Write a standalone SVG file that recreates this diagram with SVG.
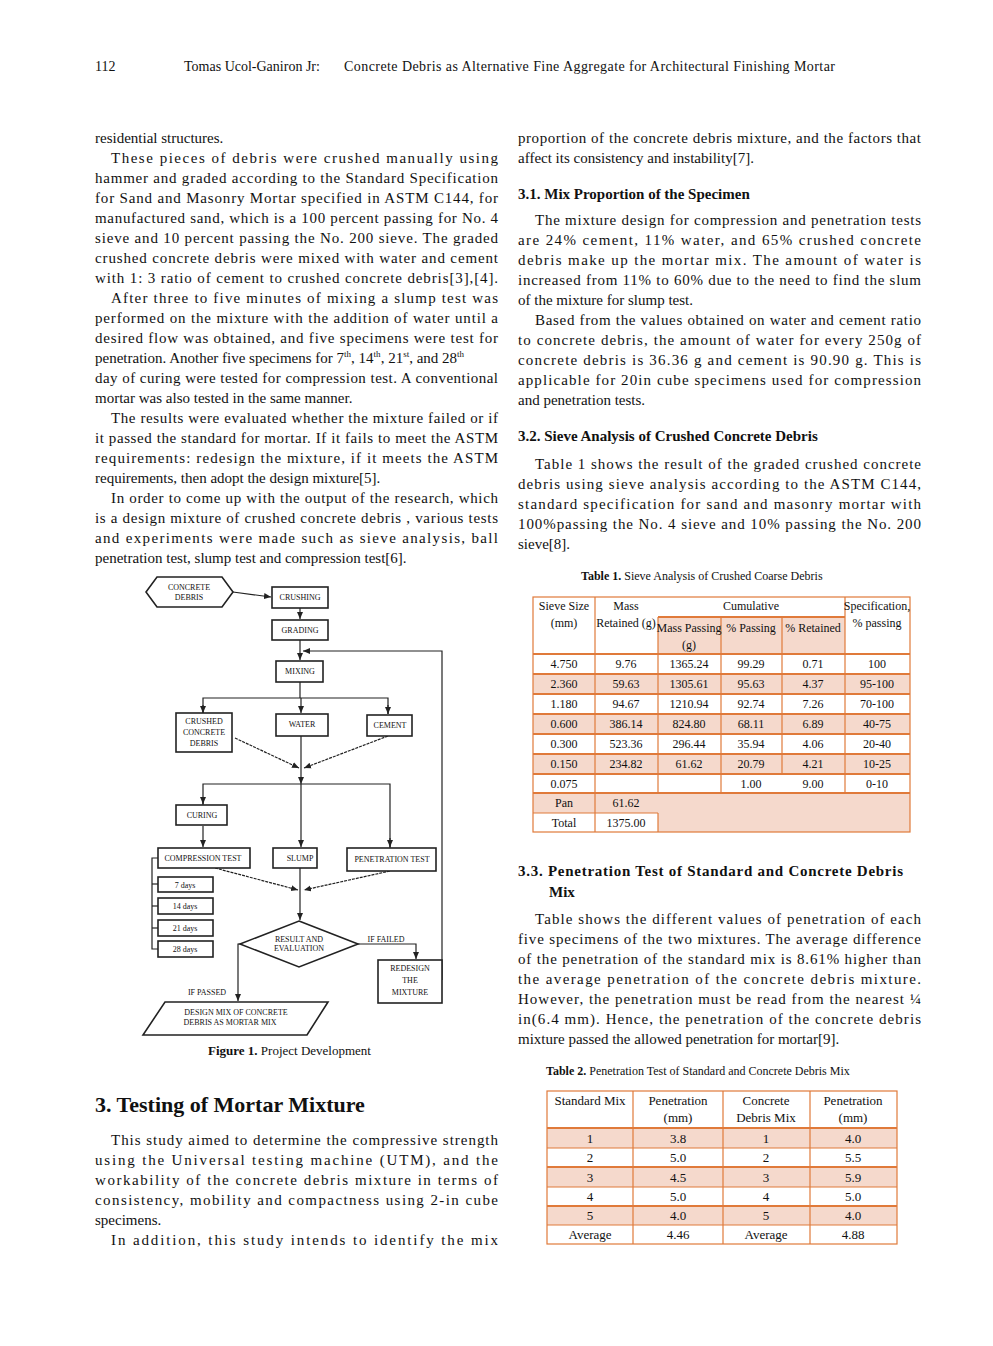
<svg xmlns="http://www.w3.org/2000/svg" width="993" height="1346" viewBox="0 0 993 1346">
<defs>
<style>
text{font-family:"Liberation Serif","Times New Roman",serif;fill:#111}
.b{font-size:15px}
.h{font-size:14px}
.sh{font-size:15px;font-weight:bold}
.cap{font-size:12px}
.fc{font-size:8px;text-anchor:middle}
.box{fill:#fff;stroke:#222;stroke-width:1.6}
.ln{stroke:#222;stroke-width:1.2;fill:none}
.tt{font-family:"Liberation Sans Narrow","DejaVu Sans Condensed",sans-serif;font-size:12px;text-anchor:middle}
.t2{font-family:"DejaVu Sans Condensed","Liberation Sans Narrow",sans-serif;font-size:13px;text-anchor:middle}
.sd{fill:#F5D9CC}
.ob{stroke:#E07A3A;fill:none}
</style>
<marker id="ar" markerWidth="8" markerHeight="8" refX="7" refY="4" orient="auto" markerUnits="userSpaceOnUse"><path d="M0,1 L7,4 L0,7 z" fill="#222"/></marker>
</defs>
<rect width="993" height="1346" fill="#fff"/>
<text class="h" x="95" y="71">112</text>
<text class="h" x="184" y="71">Tomas Ucol-Ganiron Jr:</text>
<text class="h" x="344" y="71" textLength="491" lengthAdjust="spacing">Concrete Debris as Alternative Fine Aggregate for Architectural Finishing Mortar</text>

<g class="b">
<text x="95" y="143">residential structures.</text>
<text x="111" y="163" textLength="387" lengthAdjust="spacing">These pieces of debris were crushed manually using</text>
<text x="95" y="183" textLength="403" lengthAdjust="spacing">hammer and graded according to the Standard Specification</text>
<text x="95" y="203" textLength="403" lengthAdjust="spacing">for Sand and Masonry Mortar specified in ASTM C144, for</text>
<text x="95" y="223" textLength="403" lengthAdjust="spacing">manufactured sand, which is a 100 percent passing for No. 4</text>
<text x="95" y="243" textLength="403" lengthAdjust="spacing">sieve and 10 percent passing the No. 200 sieve. The graded</text>
<text x="95" y="263" textLength="403" lengthAdjust="spacing">crushed concrete debris were mixed with water and cement</text>
<text x="95" y="283" textLength="403" lengthAdjust="spacing">with 1: 3 ratio of cement to crushed concrete debris[3],[4].</text>
<text x="111" y="303" textLength="387" lengthAdjust="spacing">After three to five minutes of mixing a slump test was</text>
<text x="95" y="323" textLength="403" lengthAdjust="spacing">performed on the mixture with the addition of water until a</text>
<text x="95" y="343" textLength="403" lengthAdjust="spacing">desired flow was obtained, and five specimens were test for</text>
<text x="95" y="363">penetration. Another five specimens for 7<tspan font-size="9" dy="-6">th</tspan><tspan dy="6">, 14</tspan><tspan font-size="9" dy="-6">th</tspan><tspan dy="6">, 21</tspan><tspan font-size="9" dy="-6">st</tspan><tspan dy="6">, and 28</tspan><tspan font-size="9" dy="-6">th</tspan></text>
<text x="95" y="383" textLength="403" lengthAdjust="spacing">day of curing were tested for compression test. A conventional</text>
<text x="95" y="403">mortar was also tested in the same manner.</text>
<text x="111" y="423" textLength="387" lengthAdjust="spacing">The results were evaluated whether the mixture failed or if</text>
<text x="95" y="443" textLength="403" lengthAdjust="spacing">it passed the standard for mortar. If it fails to meet the ASTM</text>
<text x="95" y="463" textLength="403" lengthAdjust="spacing">requirements: redesign the mixture, if it meets the ASTM</text>
<text x="95" y="483">requirements, then adopt the design mixture[5].</text>
<text x="111" y="503" textLength="387" lengthAdjust="spacing">In order to come up with the output of the research, which</text>
<text x="95" y="523" textLength="403" lengthAdjust="spacing">is a design mixture of crushed concrete debris , various tests</text>
<text x="95" y="543" textLength="403" lengthAdjust="spacing">and experiments were made such as sieve analysis, ball</text>
<text x="95" y="563">penetration test, slump test and compression test[6].</text>

<text x="518" y="143" textLength="403" lengthAdjust="spacing">proportion of the concrete debris mixture, and the factors that</text>
<text x="518" y="163">affect its consistency and instability[7].</text>
<text x="535" y="225" textLength="386" lengthAdjust="spacing">The mixture design for compression and penetration tests</text>
<text x="518" y="245" textLength="403" lengthAdjust="spacing">are 24% cement, 11% water, and 65% crushed concrete</text>
<text x="518" y="265" textLength="403" lengthAdjust="spacing">debris make up the mortar mix. The amount of water is</text>
<text x="518" y="285" textLength="403" lengthAdjust="spacing">increased from 11% to 60% due to the need to find the slum</text>
<text x="518" y="305">of the mixture for slump test.</text>
<text x="535" y="325" textLength="386" lengthAdjust="spacing">Based from the values obtained on water and cement ratio</text>
<text x="518" y="345" textLength="403" lengthAdjust="spacing">to concrete debris, the amount of water for every 250g of</text>
<text x="518" y="365" textLength="403" lengthAdjust="spacing">concrete debris is 36.36 g and cement is 90.90 g. This is</text>
<text x="518" y="385" textLength="403" lengthAdjust="spacing">applicable for 20in cube specimens used for compression</text>
<text x="518" y="405">and penetration tests.</text>
<text x="535" y="469" textLength="386" lengthAdjust="spacing">Table 1 shows the result of the graded crushed concrete</text>
<text x="518" y="489" textLength="403" lengthAdjust="spacing">debris using sieve analysis according to the ASTM C144,</text>
<text x="518" y="509" textLength="403" lengthAdjust="spacing">standard specification for sand and masonry mortar with</text>
<text x="518" y="529" textLength="403" lengthAdjust="spacing">100%passing the No. 4 sieve and 10% passing the No. 200</text>
<text x="518" y="549">sieve[8].</text>
<text x="535" y="924" textLength="386" lengthAdjust="spacing">Table shows the different values of penetration of each</text>
<text x="518" y="944" textLength="403" lengthAdjust="spacing">five specimens of the two mixtures. The average difference</text>
<text x="518" y="964" textLength="403" lengthAdjust="spacing">of the penetration of the standard mix is 8.61% higher than</text>
<text x="518" y="984" textLength="403" lengthAdjust="spacing">the average penetration of the concrete debris mixture.</text>
<text x="518" y="1004" textLength="403" lengthAdjust="spacing">However, the penetration must be read from the nearest ¼</text>
<text x="518" y="1024" textLength="403" lengthAdjust="spacing">in(6.4 mm). Hence, the penetration of the concrete debris</text>
<text x="518" y="1044">mixture passed the allowed penetration for mortar[9].</text>

<text x="111" y="1145" textLength="387" lengthAdjust="spacing">This study aimed to determine the compressive strength</text>
<text x="95" y="1165" textLength="403" lengthAdjust="spacing">using the Universal testing machine (UTM), and the</text>
<text x="95" y="1185" textLength="403" lengthAdjust="spacing">workability of the concrete debris mixture in terms of</text>
<text x="95" y="1205" textLength="403" lengthAdjust="spacing">consistency, mobility and compactness using 2-in cube</text>
<text x="95" y="1225">specimens.</text>
<text x="111" y="1245" textLength="387" lengthAdjust="spacing">In addition, this study intends to identify the mix</text>
</g>

<text class="sh" x="518" y="199">3.1. Mix Proportion of the Specimen</text>
<text class="sh" x="518" y="441">3.2. Sieve Analysis of Crushed Concrete Debris</text>
<text class="sh" x="518" y="876" textLength="385" lengthAdjust="spacing">3.3. Penetration Test of Standard and Concrete Debris</text>
<text class="sh" x="549" y="897">Mix</text>
<text x="95" y="1112" style="font-size:22px;font-weight:bold">3. Testing of Mortar Mixture</text>

<text class="cap" x="581" y="580"><tspan font-weight="bold">Table 1.</tspan>   Sieve Analysis of Crushed Coarse Debris</text>
<text class="cap" x="546" y="1075"><tspan font-weight="bold">Table 2.</tspan>   Penetration Test of Standard and Concrete Debris Mix</text>
<text class="cap" x="208" y="1055" style="font-size:13px"><tspan font-weight="bold">Figure 1.</tspan>   Project Development</text>

<!-- Flowchart -->
<g id="connectors">
<line class="ln" x1="233" y1="592" x2="271" y2="597" marker-end="url(#ar)"/>
<line class="ln" x1="300" y1="608" x2="300" y2="619" marker-end="url(#ar)"/>
<line class="ln" x1="300" y1="640" x2="300" y2="660" marker-end="url(#ar)"/>
<polyline class="ln" points="442,980 442,651 303,651" marker-end="url(#ar)"/>
<line class="ln" x1="300" y1="682" x2="300" y2="698"/>
<polyline class="ln" points="203,714 203,698 388,698 388,714" />
<line class="ln" x1="388" y1="705" x2="388" y2="714" marker-end="url(#ar)"/>
<line class="ln" x1="203" y1="705" x2="203" y2="713" marker-end="url(#ar)"/>
<line class="ln" x1="301" y1="698" x2="301" y2="713" marker-end="url(#ar)"/>
<line class="ln" x1="301" y1="736" x2="301" y2="784" marker-end="url(#ar)"/>
<line class="ln" x1="235" y1="738" x2="299" y2="768" stroke-dasharray="3,1" marker-end="url(#ar)"/>
<line class="ln" x1="388" y1="736" x2="304" y2="768" stroke-dasharray="3,1" marker-end="url(#ar)"/>
<polyline class="ln" points="203,810 203,784 390,784 390,848"/>
<line class="ln" x1="203" y1="800" x2="203" y2="804" marker-end="url(#ar)"/>
<line class="ln" x1="301" y1="784" x2="301" y2="847" marker-end="url(#ar)"/>
<line class="ln" x1="390" y1="838" x2="390" y2="847" marker-end="url(#ar)"/>
<line class="ln" x1="203" y1="826" x2="203" y2="847" marker-end="url(#ar)"/>
<line class="ln" x1="215" y1="868" x2="298" y2="890" stroke-dasharray="3,1" marker-end="url(#ar)"/>
<line class="ln" x1="390" y1="871" x2="304" y2="890" stroke-dasharray="3,1" marker-end="url(#ar)"/>
<line class="ln" x1="300" y1="868" x2="300" y2="920" marker-end="url(#ar)"/>
<polyline class="ln" points="158,858 152,858 152,949 158,949"/>
<line class="ln" x1="152" y1="884" x2="158" y2="884"/>
<line class="ln" x1="152" y1="906" x2="158" y2="906"/>
<line class="ln" x1="152" y1="928" x2="158" y2="928"/>
<polyline class="ln" points="358,944 416,944 416,959" marker-end="url(#ar)"/>
<polyline class="ln" points="241,944 238,944 238,1001" marker-end="url(#ar)"/>
</g>
<g id="n-debris"><polygon class="box" points="157,577 222,577 233,592 222,607 157,607 146,592"/><text class="fc" x="189" y="590">CONCRETE</text><text class="fc" x="189" y="600">DEBRIS</text></g>
<g id="n-crushing"><rect class="box" x="272" y="587" width="56" height="21"/><text class="fc" x="300" y="600">CRUSHING</text></g>
<g id="n-grading"><rect class="box" x="272" y="620" width="56" height="20"/><text class="fc" x="300" y="633">GRADING</text></g>
<g id="n-mixing"><rect class="box" x="276" y="661" width="47" height="21"/><text class="fc" x="300" y="674">MIXING</text></g>
<g id="n-ccd"><rect class="box" x="176" y="713" width="56" height="39"/><text class="fc" x="204" y="724">CRUSHED</text><text class="fc" x="204" y="735">CONCRETE</text><text class="fc" x="204" y="746">DEBRIS</text></g>
<g id="n-water"><rect class="box" x="276" y="714" width="52" height="22"/><text class="fc" x="302" y="727">WATER</text></g>
<g id="n-cement"><rect class="box" x="367" y="715" width="45" height="21"/><text class="fc" x="390" y="728">CEMENT</text></g>
<g id="n-curing"><rect class="box" x="176" y="805" width="51" height="20"/><text class="fc" x="202" y="818">CURING</text></g>
<g id="n-comp"><rect class="box" x="158" y="848" width="92" height="20"/><text class="fc" x="203" y="861">COMPRESSION TEST</text></g>
<g id="n-slump"><rect class="box" x="273" y="848" width="44" height="20"/><text class="fc" x="300" y="861">SLUMP</text></g>
<g id="n-pen"><rect class="box" x="347" y="848" width="89" height="23"/><text class="fc" x="392" y="862">PENETRATION TEST</text></g>
<g id="n-d7"><rect class="box" x="158" y="877" width="55" height="15"/><text class="fc" x="185" y="888">7 days</text></g>
<g id="n-d14"><rect class="box" x="158" y="898" width="55" height="16"/><text class="fc" x="185" y="909">14 days</text></g>
<g id="n-d21"><rect class="box" x="158" y="920" width="55" height="16"/><text class="fc" x="185" y="931">21 days</text></g>
<g id="n-d28"><rect class="box" x="158" y="941" width="55" height="16"/><text class="fc" x="185" y="952">28 days</text></g>
<g id="n-result"><polygon class="box" points="299,921 358,944 299,967 240,944"/><text class="fc" x="299" y="942">RESULT AND</text><text class="fc" x="299" y="951">EVALUATION</text></g>
<g id="n-redesign"><rect class="box" x="378" y="960" width="64" height="43"/><text class="fc" x="410" y="971">REDESIGN</text><text class="fc" x="410" y="983">THE</text><text class="fc" x="410" y="995">MIXTURE</text></g>
<g id="n-design"><polygon class="box" points="165,1002 328,1002 307,1035 143,1035"/><text class="fc" x="236" y="1015">DESIGN MIX OF CONCRETE</text><text class="fc" x="230" y="1025">DEBRIS AS MORTAR MIX</text></g>
<text class="fc" x="386" y="942">IF FAILED</text>
<text class="fc" x="207" y="995">IF PASSED</text>

<!-- Table 1 -->
<g id="table1">
<rect class="sd" x="658" y="617" width="187" height="37"/>
<rect class="sd" x="533" y="674" width="377" height="20"/>
<rect class="sd" x="533" y="714" width="377" height="20"/>
<rect class="sd" x="533" y="754" width="377" height="20"/>
<rect class="sd" x="533" y="793" width="377" height="20"/>
<rect class="sd" x="658" y="813" width="252" height="19"/>
<g class="ob" stroke-width="1.2">
<rect x="533" y="597" width="377" height="235"/>
<line x1="595" y1="597" x2="595" y2="832"/><line x1="658" y1="617" x2="658" y2="793"/>
<line x1="721" y1="617" x2="721" y2="793"/><line x1="782" y1="617" x2="782" y2="774"/>
<line x1="845" y1="597" x2="845" y2="793"/>
<line x1="595" y1="813" x2="658" y2="813"/><line x1="658" y1="813" x2="658" y2="832"/>
<line x1="533" y1="813" x2="595" y2="813"/>
</g>
<g class="ob" stroke-width="2.2">
<line x1="658" y1="617" x2="845" y2="617"/>
<line x1="533" y1="654" x2="910" y2="654"/><line x1="533" y1="674" x2="910" y2="674"/>
<line x1="533" y1="694" x2="910" y2="694"/><line x1="533" y1="714" x2="910" y2="714"/>
<line x1="533" y1="734" x2="910" y2="734"/><line x1="533" y1="754" x2="910" y2="754"/>
<line x1="533" y1="774" x2="910" y2="774"/><line x1="533" y1="793" x2="910" y2="793"/>
</g>
<g class="tt">
<text x="564" y="610">Sieve Size</text><text x="564" y="627">(mm)</text>
<text x="626" y="610">Mass</text><text x="626" y="627">Retained (g)</text>
<text x="751" y="610">Cumulative</text>
<text x="689" y="632">Mass Passing</text><text x="689" y="649">(g)</text>
<text x="751" y="632">% Passing</text><text x="813" y="632">% Retained</text>
<text x="877" y="610">Specification,</text><text x="877" y="627">% passing</text>
<text x="564" y="668">4.750</text><text x="626" y="668">9.76</text><text x="689" y="668">1365.24</text><text x="751" y="668">99.29</text><text x="813" y="668">0.71</text><text x="877" y="668">100</text>
<text x="564" y="688">2.360</text><text x="626" y="688">59.63</text><text x="689" y="688">1305.61</text><text x="751" y="688">95.63</text><text x="813" y="688">4.37</text><text x="877" y="688">95-100</text>
<text x="564" y="708">1.180</text><text x="626" y="708">94.67</text><text x="689" y="708">1210.94</text><text x="751" y="708">92.74</text><text x="813" y="708">7.26</text><text x="877" y="708">70-100</text>
<text x="564" y="728">0.600</text><text x="626" y="728">386.14</text><text x="689" y="728">824.80</text><text x="751" y="728">68.11</text><text x="813" y="728">6.89</text><text x="877" y="728">40-75</text>
<text x="564" y="748">0.300</text><text x="626" y="748">523.36</text><text x="689" y="748">296.44</text><text x="751" y="748">35.94</text><text x="813" y="748">4.06</text><text x="877" y="748">20-40</text>
<text x="564" y="768">0.150</text><text x="626" y="768">234.82</text><text x="689" y="768">61.62</text><text x="751" y="768">20.79</text><text x="813" y="768">4.21</text><text x="877" y="768">10-25</text>
<text x="564" y="788">0.075</text><text x="751" y="788">1.00</text><text x="813" y="788">9.00</text><text x="877" y="788">0-10</text>
<text x="564" y="807">Pan</text><text x="626" y="807">61.62</text>
<text x="564" y="827">Total</text><text x="626" y="827">1375.00</text>
</g>
</g>

<!-- Table 2 -->
<g id="table2">
<rect class="sd" x="547" y="1128" width="350" height="20"/>
<rect class="sd" x="547" y="1167" width="350" height="20"/>
<rect class="sd" x="547" y="1206" width="350" height="19"/>
<g class="ob" stroke-width="1.2">
<rect x="547" y="1091" width="350" height="153"/>
<line x1="633" y1="1091" x2="633" y2="1244"/><line x1="723" y1="1091" x2="723" y2="1244"/><line x1="810" y1="1091" x2="810" y2="1244"/>
<line x1="547" y1="1148" x2="897" y2="1148"/><line x1="547" y1="1187" x2="897" y2="1187"/><line x1="547" y1="1225" x2="897" y2="1225"/>
</g>
<g class="ob" stroke-width="2.2">
<line x1="547" y1="1128" x2="897" y2="1128"/><line x1="547" y1="1167" x2="897" y2="1167"/><line x1="547" y1="1206" x2="897" y2="1206"/>
</g>
<g class="t2">
<text x="590" y="1105">Standard Mix</text>
<text x="678" y="1105">Penetration</text><text x="678" y="1122">(mm)</text>
<text x="766" y="1105">Concrete</text><text x="766" y="1122">Debris Mix</text>
<text x="853" y="1105">Penetration</text><text x="853" y="1122">(mm)</text>
<text x="590" y="1143">1</text><text x="678" y="1143">3.8</text><text x="766" y="1143">1</text><text x="853" y="1143">4.0</text>
<text x="590" y="1162">2</text><text x="678" y="1162">5.0</text><text x="766" y="1162">2</text><text x="853" y="1162">5.5</text>
<text x="590" y="1182">3</text><text x="678" y="1182">4.5</text><text x="766" y="1182">3</text><text x="853" y="1182">5.9</text>
<text x="590" y="1201">4</text><text x="678" y="1201">5.0</text><text x="766" y="1201">4</text><text x="853" y="1201">5.0</text>
<text x="590" y="1220">5</text><text x="678" y="1220">4.0</text><text x="766" y="1220">5</text><text x="853" y="1220">4.0</text>
<text x="590" y="1239">Average</text><text x="678" y="1239">4.46</text><text x="766" y="1239">Average</text><text x="853" y="1239">4.88</text>
</g>
</g>
</svg>
